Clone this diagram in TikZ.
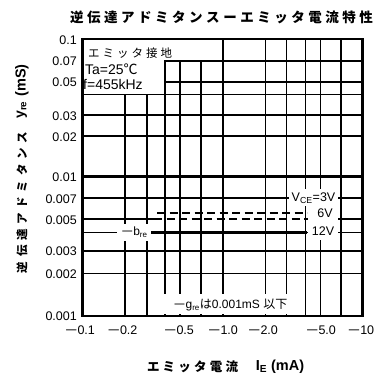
\documentclass[tikz,border=0pt]{standalone}
\usepackage{fontspec}
\usepackage{graphicx}
\setmainfont{Liberation Sans}
\newfontfamily\jp{Noto Sans CJK JP}
\newcommand\mn{\scalebox{1.7}[1]{−}}
\newcommand\fsz[1]{\fontsize{#1}{#1}\selectfont}
\begin{document}
\begin{tikzpicture}[x=1pt,y=-1pt,
  grid/.style={line width=1.5pt},
  major/.style={line width=2.3pt},
  frame/.style={line width=2.8pt},
  curve/.style={line width=2.2pt},
  dashcurve/.style={line width=2.2pt,dash pattern=on 8pt off 4.5pt},
  mask/.style={fill=white,draw=none},
  ytick/.style={anchor=east,inner sep=0pt,font=\fsz{12.5}},
  xtick/.style={inner sep=0pt,font=\fsz{12.5}},
  lbl/.style={inner sep=0pt,font=\fsz{12.5}},
  jlbl/.style={inner sep=0pt,font=\jp\fsz{11.5}}]
\useasboundingbox (0,0) rectangle (376,378);
% grid: vertical
\foreach \x in {265.5,286.7,305.7,320.5,341} \draw[grid] (\x,39) -- (\x,316);
\foreach \x in {165,180,201} \draw[grid] (\x,61) -- (\x,316);
\foreach \x in {125,147} \draw[grid] (\x,94.5) -- (\x,316);
\draw[major] (223.3,39) -- (223.3,316);
% grid: horizontal
\foreach \y in {61,82} \draw[grid] (164,\y) -- (363,\y);
\foreach \y in {94.5,115,136,198,232.5,251,273.5} \draw[grid] (82,\y) -- (363,\y);
\draw[grid] (82,219) -- (157,219);
\draw[grid] (307,219) -- (363,219);
\draw[major] (82,176.5) -- (363,176.5);
% curves
\draw[dashcurve] (157,213.3) -- (307,213.3);
\draw[dashcurve,dash phase=3pt] (157,219) -- (307,219);
\draw[curve,line width=2.6pt] (151,232.7) -- (307,232.7);
% masks behind labels
\fill[mask] (117,224) rectangle (151,241);
\fill[mask] (289,189) rectangle (338,206);
\fill[mask] (308,206) rectangle (338,240);
\fill[mask] (163,294) rectangle (298,314);
% frame
\draw[frame] (82.5,39) rectangle (362.7,316);
% title
\node[inner sep=0pt,font=\jp\bfseries\fsz{13.5}] (title) at (221.5,17)
  {\hbox to 303pt{逆\hfil 伝\hfil 達\hfil ア\hfil ド\hfil ミ\hfil タ\hfil ン\hfil ス\hfil ー\hfil エ\hfil ミ\hfil ッ\hfil タ\hfil 電\hfil 流\hfil 特\hfil 性}};
% y axis label
\node[inner sep=0pt,rotate=90,font=\jp\bfseries\fsz{11.5}] (ylabj) at (22,202.5)
  {\hbox to 141pt{逆\hfil 伝\hfil 達\hfil ア\hfil ド\hfil ミ\hfil タ\hfil ン\hfil ス}};
\node[inner sep=0pt,rotate=90,font=\bfseries\fsz{14}] (ylaby) at (22,110) {y\textsubscript{re}};
\node[inner sep=0pt,rotate=90,font=\bfseries\fsz{14.5}] (ylabu) at (22,80.5) {(mS)};
% x axis label
\node[inner sep=0pt,font=\jp\bfseries\fsz{12.5}] (xlabj) at (192.5,366.5)
  {\hbox to 91pt{エ\hfil ミ\hfil ッ\hfil タ\hfil 電\hfil 流}};
\node[inner sep=0pt,font=\bfseries\fsz{14.5}] (xlabi) at (280,366.5) {I\textsubscript{E} (mA)};
% y ticks
\node[ytick] (y1) at (77,40) {0.1};
\node[ytick] (y2) at (77,61) {0.07};
\node[ytick] (y3) at (77,82) {0.05};
\node[ytick] (y4) at (77,116) {0.03};
\node[ytick] (y5) at (77,137) {0.02};
\node[ytick] (y6) at (77,177) {0.01};
\node[ytick] (y7) at (77,199) {0.007};
\node[ytick] (y8) at (77,220) {0.005};
\node[ytick] (y9) at (77,251) {0.003};
\node[ytick] (y10) at (77,274) {0.002};
\node[ytick] (y11) at (77,316) {0.001};
% x ticks
\node[xtick] (x1) at (80,330) {\mn 0.1};
\node[xtick] (x2) at (122.5,330) {\mn 0.2};
\node[xtick] (x3) at (179,330) {\mn 0.5};
\node[xtick] (x4) at (223,330) {\mn 1.0};
\node[xtick] (x5) at (263,330) {\mn 2.0};
\node[xtick] (x6) at (321,330) {\mn 5.0};
\node[xtick] (x7) at (361,330) {\mn 10};
% conditions
\node[jlbl,anchor=west] (cond1) at (88,53) {\hbox to 84pt{エ\hfil ミ\hfil ッ\hfil タ\hfil 接\hfil 地}};
\node[lbl,anchor=west,font=\fsz{14}] (cond2) at (85,69.5) {Ta=25{\jp ℃}};
\node[lbl,anchor=west,font=\fsz{14}] (cond3) at (83,84) {f=455kHz};
% curve labels
\node[lbl] (vce) at (313.5,197.7) {V\textsubscript{CE}=3V};
\node[lbl] (v6) at (325,213.3) {6V};
\node[lbl] (v12) at (323,231) {12V};
\node[lbl,font=\fsz{12}] (bre) at (134.5,232.5) {\mn b\textsubscript{re}};
\node[lbl,font=\fsz{12}] (gre) at (230.5,305) {\mn g\textsubscript{re}{\jp は}0.001mS {\jp 以下}};
\end{tikzpicture}
\end{document}
